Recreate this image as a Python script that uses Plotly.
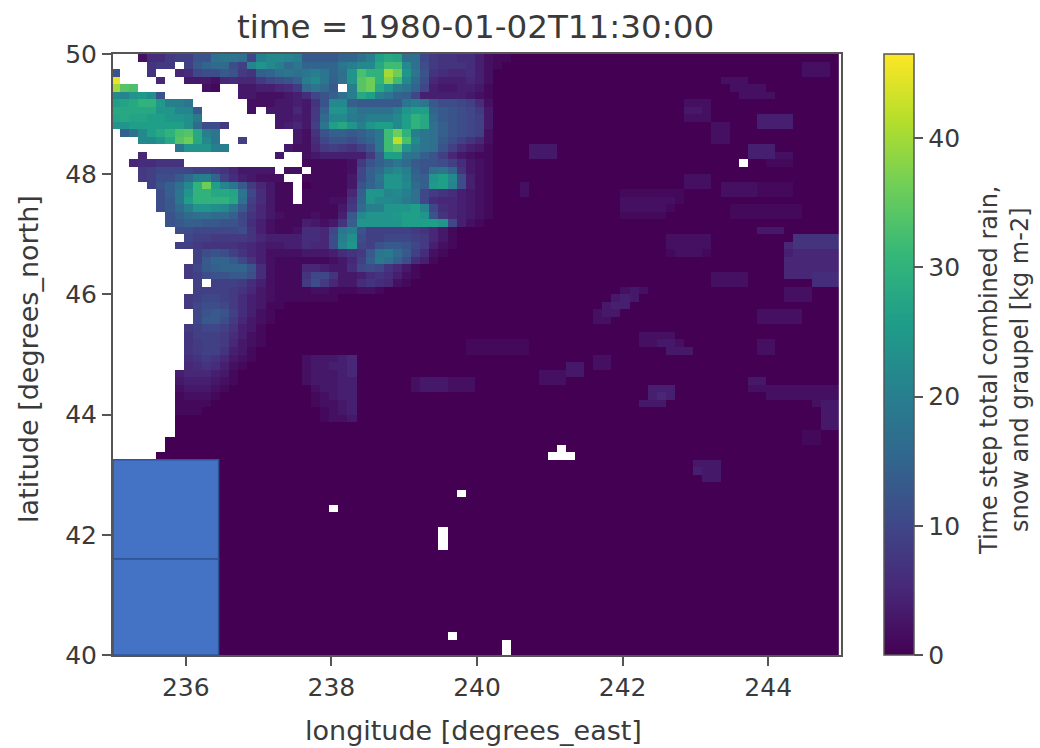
import numpy as np
import plotly.graph_objects as go

# One character per grid cell: '.' = missing, otherwise the index in ALPHABET is the value (kg m-2).
ALPHABET = "0123456789abcdefghijklmnopqrstuvwxyzABCDEFGHIJKLMN"
rows_north_to_south = [
"...266899c chiihakmml kddddffhkq srhha87766 4211000000 0000000000 0000000000 0000000000",
"....788.9d fggb9lomkg iffffikmms wwmhb87776 4210000000 0000000000 0000000000 0000002220",
"c...7..56a bbdc87efhi hikifhoxuu EAoic76556 4200000000 0000000000 0000000000 0000002220",
"J....5..33 3256558abc ekmiehoyAu Cwmgb54445 4200000000 0000000000 0000000222 0000000000",
"Eyx....... 21..334456 8gigd.kyAs okifa43344 3100000000 0000000000 0000000022 2200000000",
"mlopnc.... ....332223 46acehksqk ifea444443 2100000000 0000000000 0000000002 2220000000",
"qrsuupkki. .....22233 437cmmeddd ddikidbba9 6200000000 0000000000 0002220000 0000000000",
"sssssoolld .....2.333 538eookhhh hkoqqfdcba 8300000000 0000000000 0003320000 0000000000",
"rsrrqqoonj ........33 438gmmjikk kmqusgdcba 9300000000 0000000000 0002220000 0444400000",
"ooqqqqqqng bb8.....34 539iqsokoq qmqushecba 9300000000 0000000000 0000002200 0444400000",
".ehmqsuxys ki........ 327ceedegi wAukihecba 9200000000 0000000000 0000002200 0000000000",
"...mmosyAs mi..9..... 326accbdfi wGxmihdb97 5200000000 0000000000 0000002200 0000000000",
".......ioo okk......3 22589879ci wyokihc964 3100003330 0000000000 0000000000 4440000000",
"...5...... ........3. .23444448e qqihec9532 1100003330 0000000000 0000000000 4442200000",
"..566777.. .......... .1111128ce gigdccb963 2100000000 0000000000 000000000. 0011100000",
"...89aaaa9 98753333.2 2.11112aeg kmkechif73 2100000000 0000000000 0000000000 0000000000",
"...89bbdgk kf9643222. .111113aei oolfeoqmb4 2100000000 0000000000 0002220000 0000000000",
"....9cehmu Aqlid85311 .011113cfh oomgepqlb4 2100020000 0000000000 0002220222 2111100000",
".....beiou ussria6311 .111115eoo lmkha87643 2100020000 0000001111 1110000222 2111100000",
".....bdiqu uuush96311 .111227fom mljha65543 2100000000 0000002222 2210000000 0000000000",
".....bdgko onmid85311 1111138gkk oooqla6543 2100000000 0000002222 2100000011 1111110000",
"......cegh hggea75321 112114dmoo opqqoc7543 2100000000 0000001111 1000000011 1111110000",
"......cdee ddcca64211 143237eooo ooqqqqoa42 1000000000 0000000000 0000000000 0000000000",
".......bba aaaab74211 2665aikc99 9998753100 0000000000 0000000000 0000000000 0333000000",
"........a9 9888875444 4665bknb99 aaa9853100 0000000000 0000000000 0222220000 0000077777",
".......998 7777654334 4655bloa9c ddca842100 0000000000 0000000000 0222220000 0000577777",
".........9 bcb9754222 23334678di jgd9621000 0000000000 0000000000 0122210000 0000455555",
".........9 dffda74211 11112359ej heb6410000 0000000000 0000000000 0000000000 0000555555",
"........8a defffc6211 1554336aba 7531000000 0000000000 0000000000 0000000000 0000555555",
"........89 bccddb6211 17aa733467 6421000000 0000000000 0000000000 0000002222 0000555666",
".........9 .999864211 18b8533676 5210000000 0000000000 0000000000 0000002222 0000000666",
".........9 9998753211 1122111221 0000000000 0000000000 0000002320 0000000000 0000222000",
"........89 aa98643211 1111100000 0000000000 0000000000 0000034300 0000000000 0000222000",
"........8a bba8643110 0000000000 0000000000 0000000000 0000344000 0000000000 0000000000",
".........a cdc9642100 0000000000 0000000000 0000000000 0002330000 0000000000 0222220000",
".........a ddb8532100 0000000000 0000000000 0000000000 0002200000 0000000000 0222220000",
"........89 aa97431000 0000000000 0000000000 0000000000 0000000000 0000000000 0000000000",
"........79 9986421000 0000000000 0000000000 0000000000 0000000022 2200000000 0000000000",
"........78 9985321000 0000000000 0000000001 1111110000 0000000022 3320000000 0220000000",
"........78 9974310000 0000000000 0000000001 1111110000 0000000000 0333000000 0220000000",
"........67 8753210000 0233345000 0000000000 0000000000 0002200000 0000000000 0000000000",
"........56 7642100000 0233445000 0000000000 0000000000 3302200000 0000000000 0000000000",
".......455 5431000000 0233345000 0000000000 0000000222 3300000000 0000000000 0000000000",
".......344 4321000000 0233344000 0002333222 0000000222 0000000000 0000000000 3300000000",
".......233 3210000000 0023344000 0002333222 0000000000 0000000004 4400000000 2222222222",
".......122 2100000000 0012344000 0000000000 0000000000 0000000004 5400000000 0022222222",
".......111 1000000000 0012234000 0000000000 0000000000 0000000033 3000000000 0000000233",
".......111 0000000000 0001234000 0000000000 0000000000 0000000000 0000000000 0000000033",
".......000 0000000000 0001223000 0000000000 0000000000 0000000000 0000000000 0000000033",
".......000 0000000000 0000000000 0000000000 0000000000 0000000000 0000000000 0000000033",
".......000 0000000000 0000000000 0000000000 0000000000 0000000000 0000000000 0000001100",
"......0000 0000000000 0000000000 0000000000 0000000000 0000000000 0000000000 0000001100",
"......0000 0000000000 0000000000 0000000000 000000000. 0000000000 0000000000 0000000000",
".....00000 0000000000 0000000000 0000000000 00000000.. .000000000 0000000000 0000000000",
"0000000000 0000000000 0000000000 0000000000 0000000000 0000000000 0000333000 0000000000",
"0000000000 0000000000 0000000000 0000000000 0000000000 0000000000 0000433000 0000000000",
"0000000000 0000000000 0000000000 0000000000 0000000000 0000000000 0000033000 0000000000",
"0000000000 0000000000 0000000000 0000000000 0000000000 0000000000 0000000000 0000000000",
"0000000000 0000000000 0000000000 00000000.0 0000000000 0000000000 0000000000 0000000000",
"0000000000 0000000000 0000000000 0000000000 0000000000 0000000000 0000000000 0000000000",
"0000000000 0000000000 0000.00000 0000000000 0000000000 0000000000 0000000000 0000000000",
"0000000000 0000000000 0000000000 0000000000 0000000000 0000000000 0000000000 0000000000",
"0000000000 0000000000 0000000000 0000000000 0000000000 0000000000 0000000000 0000000000",
"0000000000 0000000000 0000000000 000000.000 0000000000 0000000000 0000000000 0000000000",
"0000000000 0000000000 0000000000 000000.000 0000000000 0000000000 0000000000 0000000000",
"0000000000 0000000000 0000000000 000000.000 0000000000 0000000000 0000000000 0000000000",
"0000000000 0000000000 0000000000 0000000000 0000000000 0000000000 0000000000 0000000000",
"0000000000 0000000000 0000000000 0000000000 0000000000 0000000000 0000000000 0000000000",
"0000000000 0000000000 0000000000 0000000000 0000000000 0000000000 0000000000 0000000000",
"0000000000 0000000000 0000000000 0000000000 0000000000 0000000000 0000000000 0000000000",
"0000000000 0000000000 0000000000 0000000000 0000000000 0000000000 0000000000 0000000000",
"0000000000 0000000000 0000000000 0000000000 0000000000 0000000000 0000000000 0000000000",
"0000000000 0000000000 0000000000 0000000000 0000000000 0000000000 0000000000 0000000000",
"0000000000 0000000000 0000000000 0000000000 0000000000 0000000000 0000000000 0000000000",
"0000000000 0000000000 0000000000 0000000000 0000000000 0000000000 0000000000 0000000000",
"0000000000 0000000000 0000000000 0000000000 0000000000 0000000000 0000000000 0000000000",
"0000000000 0000000000 0000000000 0000000000 0000000000 0000000000 0000000000 0000000000",
"0000000000 0000000000 0000000000 0000000.00 0000000000 0000000000 0000000000 0000000000",
"0000000000 0000000000 0000000000 0000000000 000.000000 0000000000 0000000000 0000000000",
"0000000000 0000000000 0000000000 0000000000 000.000000 0000000000 0000000000 0000000000",
]

lon_west_edge = 234.97
lat_north_edge = 50.0
cell_degrees = 0.125
x_ticks = [236, 238, 240, 242, 244]
y_ticks = [40, 42, 44, 46, 48, 50]
colorbar_ticks = [0, 10, 20, 30, 40]
value_max = 46.5
box_lon = [235.0, 236.45]
box_lat_edges = [40.0, 41.6, 43.25]

title_text = "time = 1980-01-02T11:30:00"
x_label = "longitude [degrees_east]"
y_label = "latitude [degrees_north]"
colorbar_label = "Time step total combined rain,<br>snow and graupel [kg m-2]"

grid = []
for row in rows_north_to_south:
    cells = row.replace(" ", "").ljust(80, "0")[:80]
    grid.append([np.nan if ch == "." else float(ALPHABET.index(ch)) for ch in cells])
grid = np.array(grid)

lons = lon_west_edge + cell_degrees * (np.arange(grid.shape[1]) + 0.5)
lats = lat_north_edge - cell_degrees * (np.arange(grid.shape[0]) + 0.5)

W, H = 1040, 748
L, R, T, B = 113, 841, 54, 655
FONT = "DejaVu Sans"
INK = "#3a3a3a"
SPINE = "#555555"


def text_at(text, px, py, size, angle=0):
    return dict(text=text, x=px / W, y=1 - py / H, xref="paper", yref="paper",
                xanchor="center", yanchor="middle", showarrow=False, textangle=angle,
                font=dict(family=FONT, size=size, color=INK))


fig = go.Figure(go.Heatmap(
    x=lons, y=lats[::-1], z=grid[::-1],
    colorscale="Viridis", zmin=0, zmax=value_max,
    colorbar=dict(
        x=884 / W, xanchor="left", xpad=0, ypad=0,
        y=1 - (T + B) / 2 / H, yanchor="middle",
        lenmode="fraction", len=(B - T) / H,
        thicknessmode="pixels", thickness=30,
        outlinecolor=SPINE, outlinewidth=1.5,
        tickmode="array", tickvals=colorbar_ticks,
        ticks="outside", ticklen=9, tickwidth=2, tickcolor=SPINE,
        tickfont=dict(family=FONT, size=25, color=INK),
    ),
))

for lo, hi in zip(box_lat_edges[:-1], box_lat_edges[1:]):
    fig.add_shape(type="rect", x0=box_lon[0], x1=box_lon[1], y0=lo, y1=hi,
                  fillcolor="#4472C4", line=dict(color="#2F5597", width=1.5), layer="above")

axis = dict(showgrid=False, zeroline=False, showline=True, mirror=True, automargin=False,
            linecolor=SPINE, linewidth=2, ticks="outside", ticklen=9,
            tickwidth=2, tickcolor=SPINE,
            tickfont=dict(family=FONT, size=25, color=INK))

fig.update_layout(
    width=W, height=H,
    margin=dict(l=0, r=0, t=0, b=0, autoexpand=False),
    paper_bgcolor="white", plot_bgcolor="white",
    xaxis=dict(axis, domain=[L / W, R / W], range=[235, 245], tickmode="array",
               tickvals=x_ticks),
    yaxis=dict(axis, domain=[1 - B / H, 1 - T / H], range=[40, 50], tickmode="array",
               tickvals=y_ticks),
    annotations=[
        text_at(title_text, 475, 27, 32.6),
        text_at(x_label, 473, 730, 27),
        text_at(y_label, 28, 359, 27, -90),
        text_at(colorbar_label, 1004, 370, 24, -90),
    ],
)

fig.write_html("out.html", config={"displayModeBar": False},
               post_script="document.body.style.margin='0';document.body.style.overflow='hidden';")
